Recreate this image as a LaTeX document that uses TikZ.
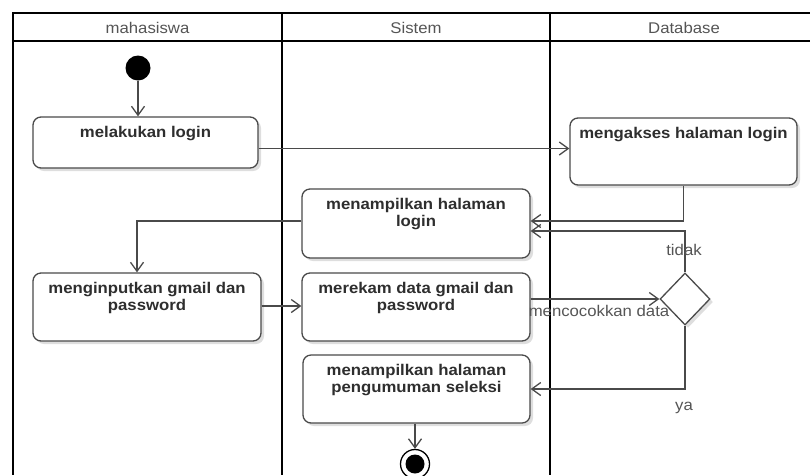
\documentclass[tikz,border=0pt]{standalone}
\usepackage{fontspec}
\setmainfont[FakeStretch=1.08]{Liberation Sans}
\usetikzlibrary{arrows.meta,shapes.geometric,shadows}
\definecolor{ln}{HTML}{4A4A4A}
\definecolor{tx}{HTML}{2E2E2E}
\definecolor{lt}{HTML}{555555}
\begin{document}
\begin{tikzpicture}[x=1pt,y=-1pt,
 lane/.style={line width=1.8pt,black},
 act/.style={draw=ln, line width=1.3pt, rounded corners=8pt, fill=white, inner sep=0pt,
   drop shadow={shadow xshift=3pt,shadow yshift=-3pt,opacity=0.13,fill=black}},
 acttext/.style={anchor=north, align=center, font=\fontsize{15.5}{16.5}\selectfont\bfseries, text=tx, inner sep=0pt},
 flow/.style={draw=ln, line width=1.3pt, -{Straight Barb[length=9pt,width=13pt,line width=1.3pt]}},
 lbl/.style={font=\fontsize{15.5}{17}\selectfont, text=lt, inner sep=0pt},
 hdr/.style={font=\fontsize{15.5}{18}\selectfont, text=lt, inner sep=0pt}
]
\useasboundingbox (0,0) rectangle (810,475);
\fill[white] (0,0) rectangle (810,475);
% swimlanes
\draw[lane] (810,13) -- (13,13) -- (13,475);
\draw[lane] (13,41) -- (810,41);
\draw[lane] (282,13) -- (282,475);
\draw[lane] (550,13) -- (550,475);
\node[hdr] (h1) at (147.5,28) {mahasiswa};
\node[hdr] (h2) at (416,28) {Sistem};
\node[hdr] (h3) at (684,28) {Database};
% nodes
\node[circle, fill=black, minimum size=25pt, inner sep=0pt] (start) at (138,68) {};
\node[act, minimum width=225pt, minimum height=51pt] (login) at (145.5,142.5) {};
\node[acttext] (loginT) at ([yshift=-10pt]login.north) {melakukan login};
\node[act, minimum width=227pt, minimum height=67pt] (akses) at (683.5,151.5) {};
\node[acttext] (aksesT) at ([yshift=-10pt]akses.north) {mengakses halaman login};
\node[act, minimum width=228pt, minimum height=69pt] (tampil) at (416,223.5) {};
\node[acttext] (tampilT) at ([yshift=-10pt]tampil.north) {menampilkan halaman\\login};
\node[act, minimum width=228pt, minimum height=68pt] (input) at (147,307) {};
\node[acttext] (inputT) at ([yshift=-10pt]input.north) {menginputkan gmail dan\\password};
\node[act, minimum width=228pt, minimum height=68pt] (rekam) at (416,307) {};
\node[acttext] (rekamT) at ([yshift=-10pt]rekam.north) {merekam data gmail dan\\password};
\node[act, minimum width=227pt, minimum height=68pt] (umum) at (416.5,389) {};
\node[acttext] (umumT) at ([yshift=-10pt]umum.north) {menampilkan halaman\\pengumuman seleksi};
\node[diamond, draw=ln, line width=1.3pt, fill=white, minimum width=50pt, minimum height=52pt, inner sep=0pt,
   drop shadow={shadow xshift=3pt,shadow yshift=-3pt,opacity=0.13,fill=black}] (dec) at (685,299) {};
\node[circle, draw=black, line width=1.3pt, fill=white, minimum size=29pt, inner sep=0pt] (fin) at (415,464) {};
\node[circle, fill=black, minimum size=19pt, inner sep=0pt] (finIn) at (fin.center) {};
% flows
\draw[flow] (start.south) -- (start.south |- login.north);
\draw[flow] ([yshift=-6pt]login.east) -- ([yshift=-6pt]login.east -| akses.west);
\draw[flow] (akses.south) |- ([yshift=2.5pt]tampil.east);
\draw[flow] (dec.north) |- ([yshift=-7.5pt]tampil.east);
\draw[flow] ([yshift=2.5pt]tampil.west) -| ([xshift=-10pt]input.north);
\draw[flow] ([yshift=1pt]input.east) -- ([yshift=1pt]rekam.west);
\draw[flow] (rekam.east |- dec.west) -- (dec.west);
\draw[flow] (dec.south) |- (umum.east);
\draw[flow] (umum.south -| fin.north) -- (fin.north);
% labels
\node[lbl] (tidak) at (684,250) {tidak};
\node[lbl] (cocok) at (599,311) {mencocokkan data};
\node[lbl] (ya) at (684,408) {ya};
\end{tikzpicture}
\end{document}
